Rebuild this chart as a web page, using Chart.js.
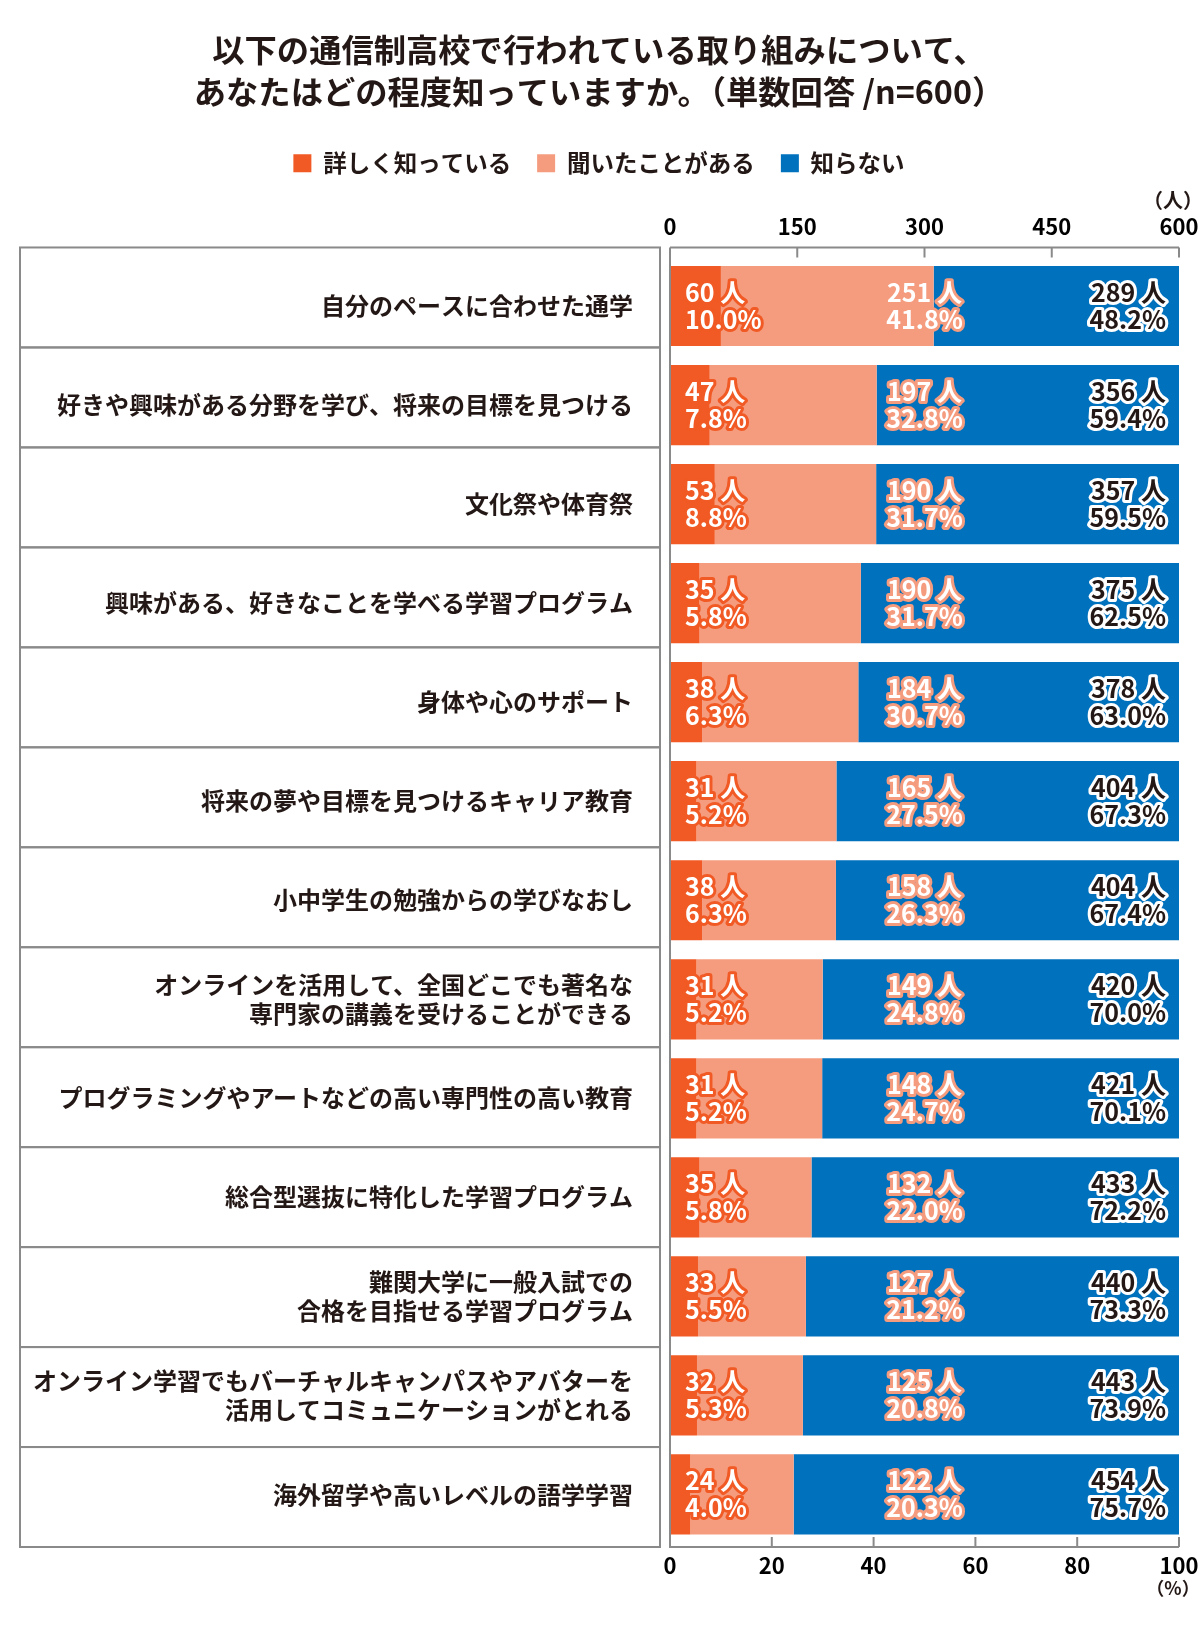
<!DOCTYPE html>
<html lang="ja">
<head>
<meta charset="UTF-8">
<title>通信制高校の取り組みの認知度</title>
<script src="https://cdn.jsdelivr.net/npm/chart.js@4.4.1/dist/chart.umd.min.js"></script>
<style>
    body { margin: 0; background: #fff; }
    #contenedor { width: 1200px; height: 1646px; }
</style>
</head>
<body>
<div id="contenedor"><canvas id="grafica" width="1200" height="1646"></canvas></div>
<script>
const categorias = [
    '自分のペースに合わせた通学',
    '好きや興味がある分野を学び、将来の目標を見つける',
    '文化祭や体育祭',
    '興味がある、好きなことを学べる学習プログラム',
    '身体や心のサポート',
    '将来の夢や目標を見つけるキャリア教育',
    '小中学生の勉強からの学びなおし',
    ['オンラインを活用して、全国どこでも著名な', '専門家の講義を受けることができる'],
    'プログラミングやアートなどの高い専門性の高い教育',
    '総合型選抜に特化した学習プログラム',
    ['難関大学に一般入試での', '合格を目指せる学習プログラム'],
    ['オンライン学習でもバーチャルキャンパスやアバターを', '活用してコミュニケーションがとれる'],
    '海外留学や高いレベルの語学学習'
];
const series = ['詳しく知っている', '聞いたことがある', '知らない'];

// 人数
const personasDetalle = [60, 47, 53, 35, 38, 31, 38, 31, 31, 35, 33, 32, 24];
const personasOido = [251, 197, 190, 190, 184, 165, 158, 149, 148, 132, 127, 125, 122];
const personasNo = [289, 356, 357, 375, 378, 404, 404, 420, 421, 433, 440, 443, 454];

// 割合 (%)
const pctDetalle = [10.0, 7.8, 8.8, 5.8, 6.3, 5.2, 6.3, 5.2, 5.2, 5.8, 5.5, 5.3, 4.0];
const pctOido = [41.8, 32.8, 31.7, 31.7, 30.7, 27.5, 26.3, 24.8, 24.7, 22.0, 21.2, 20.8, 20.3];
const pctNo = [48.2, 59.4, 59.5, 62.5, 63.0, 67.3, 67.4, 70.0, 70.1, 72.2, 73.3, 73.9, 75.7];

const ticksPersonas = [0, 150, 300, 450, 600];
const ticksPct = [0, 20, 40, 60, 80, 100];

const colores = ['#f15a24', '#f59c7f', '#0071bc'];
const fuente = '"Noto Sans CJK JP", "Noto Sans", sans-serif';
const negro = '#231815';
const gris = '#8a8a8a';

// marcos de las categorías y ejes con marcas hacia dentro
const marcos = {
    id: 'marcos',
    afterDraw(chart) {
        const ctx = chart.ctx;
        const area = chart.chartArea;
        const xs = chart.scales.x;
        const xs2 = chart.scales.x2;
        const arriba = area.top - 9;
        const abajo = area.bottom + 3;
        const alto = (abajo - arriba) / categorias.length;
        ctx.save();
        ctx.strokeStyle = gris;
        ctx.lineWidth = 2;
        for (let i = 0; i < categorias.length; i++) {
            ctx.strokeRect(20, arriba + i * alto, 640, alto);
        }
        ctx.beginPath();
        ctx.moveTo(area.left, arriba);
        ctx.lineTo(xs2.getPixelForValue(600), arriba);
        ctx.moveTo(area.left, arriba);
        ctx.lineTo(area.left, abajo);
        ctx.lineTo(xs.getPixelForValue(100), abajo);
        ticksPersonas.forEach(v => {
            const x = xs2.getPixelForValue(v);
            ctx.moveTo(x, arriba);
            ctx.lineTo(x, arriba + 10);
        });
        ticksPct.forEach(v => {
            const x = xs.getPixelForValue(v);
            ctx.moveTo(x, abajo);
            ctx.lineTo(x, abajo - 10);
        });
        ctx.stroke();

        ctx.fillStyle = negro;
        ctx.textAlign = 'center';
        ctx.textBaseline = 'middle';
        ctx.font = 'bold 20px ' + fuente;
        ctx.fillText('（人）', xs2.getPixelForValue(600) - 6, 200);
        ctx.font = 'bold 18px ' + fuente;
        ctx.fillText('（%）', xs.getPixelForValue(100) - 6, 1588);
        ctx.restore();
    }
};

// etiquetas de valores sobre las barras
const etiquetas = {
    id: 'etiquetas',
    afterDatasetsDraw(chart) {
        const ctx = chart.ctx;
        const xs = chart.scales.x;
        const grupos = [
            { n: personasDetalle, p: pctDetalle, x: xs.left + 15, align: 'left', relleno: '#ffffff', borde: colores[0] },
            { n: personasOido, p: pctOido, x: xs.getPixelForValue(50), align: 'center', relleno: '#ffffff', borde: colores[1] },
            { n: personasNo, p: pctNo, x: xs.right - 13, align: 'right', relleno: negro, borde: '#ffffff' }
        ];
        ctx.save();
        ctx.font = 'bold 25px ' + fuente;
        ctx.lineJoin = 'round';
        ctx.lineWidth = 6;
        ctx.textBaseline = 'middle';
        chart.getDatasetMeta(0).data.forEach((barra, i) => {
            const y = barra.y;
            grupos.forEach(g => {
                ctx.textAlign = g.align;
                const lineas = [g.n[i] + ' 人', g.p[i].toFixed(1) + '%'];
                lineas.forEach((t, k) => {
                    const yy = y - 13.5 + k * 27;
                    ctx.strokeStyle = g.borde;
                    ctx.strokeText(t, g.x, yy);
                    ctx.fillStyle = g.relleno;
                    ctx.fillText(t, g.x, yy);
                });
            });
        });
        ctx.restore();
    }
};

// sin relleno extra para las etiquetas de los extremos
const sinRelleno = s => { s.paddingLeft = 0; s.paddingRight = 0; };

const ctx = document.getElementById('grafica').getContext('2d');
new Chart(ctx, {
    type: 'bar',
    data: {
        labels: categorias,
        datasets: [
            { label: series[0], data: pctDetalle, backgroundColor: colores[0] },
            { label: series[1], data: pctOido, backgroundColor: colores[1] },
            { label: series[2], data: pctNo, backgroundColor: colores[2] }
        ]
    },
    options: {
        indexAxis: 'y',
        responsive: false,
        animation: false,
        devicePixelRatio: 1,
        layout: { padding: { left: 19, right: 21, top: 0, bottom: 0 } },
        datasets: {
            bar: { barPercentage: 0.81, categoryPercentage: 1, borderWidth: 0 }
        },
        scales: {
            x: {
                stacked: true,
                position: 'bottom',
                min: 0,
                max: 100,
                afterBuildTicks: s => { s.ticks = ticksPct.map(v => ({ value: v })); },
                afterFit: s => { s.height = 102; sinRelleno(s); },
                grid: { display: false, drawTicks: false },
                border: { display: false },
                ticks: { padding: 8, color: '#000', font: { family: fuente, size: 22, weight: 'bold' } }
            },
            x2: {
                display: true,
                position: 'top',
                min: 0,
                max: 600,
                afterBuildTicks: s => { s.ticks = ticksPersonas.map(v => ({ value: v })); },
                afterFit: s => { s.height = 71.5; sinRelleno(s); },
                grid: { display: false, drawTicks: false },
                border: { display: false },
                ticks: { padding: 17, color: '#000', font: { family: fuente, size: 22, weight: 'bold' } }
            },
            y: {
                stacked: true,
                afterFit: s => { s.width = 651; },
                grid: { display: false, drawTicks: false },
                border: { display: false },
                ticks: {
                    padding: 37,
                    color: negro,
                    font: { family: fuente, size: 24, weight: 'bold', lineHeight: 1.23 }
                }
            }
        },
        plugins: {
            title: {
                display: true,
                text: ['以下の通信制高校で行われている取り組みについて、', 'あなたはどの程度知っていますか。（単数回答 /n=600）'],
                color: negro,
                font: { family: fuente, size: 32.3, weight: 'bold', lineHeight: 1.3 },
                padding: { top: 29, bottom: 12.5 }
            },
            legend: {
                position: 'top',
                labels: {
                    boxWidth: 18,
                    boxHeight: 18,
                    padding: 26,
                    color: negro,
                    font: { family: fuente, size: 23.5, weight: 'bold' }
                }
            },
            tooltip: { enabled: false }
        }
    },
    plugins: [marcos, etiquetas]
});
</script>
</body>
</html>
